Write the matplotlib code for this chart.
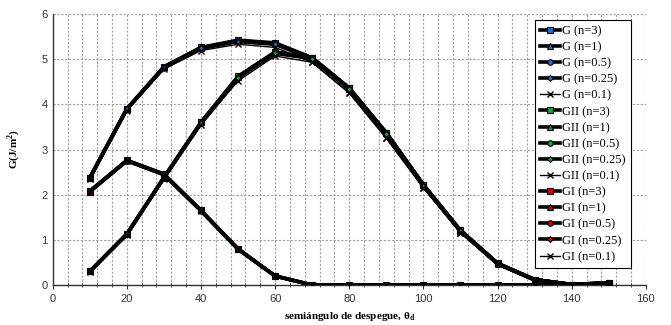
import matplotlib
matplotlib.use("Agg")
import matplotlib.pyplot as plt
import numpy as np
from matplotlib.ticker import MultipleLocator

theta = [10, 20, 30, 40, 50, 60, 70, 80, 90, 100, 110, 120, 130, 140, 150]

# Total G
G_n3    = [2.38, 3.90, 4.83, 5.26, 5.42, 5.36, 5.03, 4.36, 3.37, 2.22, 1.21, 0.48, 0.12, 0.01, 0.05]
G_n1    = [2.37, 3.90, 4.83, 5.25, 5.41, 5.35, 5.02, 4.35, 3.36, 2.21, 1.20, 0.48, 0.12, 0.01, 0.05]
G_n05   = [2.37, 3.89, 4.82, 5.25, 5.40, 5.34, 5.02, 4.34, 3.35, 2.20, 1.20, 0.47, 0.12, 0.01, 0.04]
G_n025  = [2.36, 3.89, 4.81, 5.24, 5.39, 5.33, 5.01, 4.33, 3.34, 2.20, 1.19, 0.47, 0.11, 0.01, 0.04]
G_n01   = [2.35, 3.86, 4.78, 5.19, 5.33, 5.26, 4.93, 4.25, 3.25, 2.15, 1.16, 0.46, 0.11, 0.01, 0.04]

# Mode II
GII_n3   = [0.30, 1.13, 2.38, 3.60, 4.62, 5.16, 5.03, 4.36, 3.37, 2.22, 1.21, 0.48, 0.12, 0.01, 0.05]
GII_n1   = [0.30, 1.13, 2.38, 3.60, 4.61, 5.15, 5.02, 4.35, 3.36, 2.21, 1.20, 0.48, 0.12, 0.01, 0.05]
GII_n05  = [0.30, 1.12, 2.37, 3.59, 4.60, 5.14, 5.02, 4.34, 3.35, 2.20, 1.20, 0.47, 0.12, 0.01, 0.04]
GII_n025 = [0.30, 1.12, 2.37, 3.58, 4.59, 5.13, 5.01, 4.33, 3.34, 2.20, 1.19, 0.47, 0.11, 0.01, 0.04]
GII_n01  = [0.29, 1.10, 2.34, 3.54, 4.52, 5.07, 4.93, 4.25, 3.25, 2.15, 1.16, 0.46, 0.11, 0.01, 0.04]

# Mode I
GI_n3   = [2.08, 2.76, 2.46, 1.65, 0.80, 0.20, 0.00, 0.00, 0.00, 0.00, 0.00, 0.00, 0.00, 0.00, 0.00]
GI_n1   = [2.07, 2.76, 2.45, 1.65, 0.80, 0.20, 0.00, 0.00, 0.00, 0.00, 0.00, 0.00, 0.00, 0.00, 0.00]
GI_n05  = [2.07, 2.75, 2.45, 1.65, 0.80, 0.20, 0.00, 0.00, 0.00, 0.00, 0.00, 0.00, 0.00, 0.00, 0.00]
GI_n025 = [2.06, 2.75, 2.44, 1.64, 0.79, 0.20, 0.00, 0.00, 0.00, 0.00, 0.00, 0.00, 0.00, 0.00, 0.00]
GI_n01  = [2.06, 2.74, 2.43, 1.63, 0.79, 0.19, 0.00, 0.00, 0.00, 0.00, 0.00, 0.00, 0.00, 0.00, 0.00]

n_labels = ["n=3", "n=1", "n=0.5", "n=0.25", "n=0.1"]
groups = [
    ("G", [G_n3, G_n1, G_n05, G_n025, G_n01], "#1f6fd0"),
    ("GII", [GII_n3, GII_n1, GII_n05, GII_n025, GII_n01], "#1aa33a"),
    ("GI", [GI_n3, GI_n1, GI_n05, GI_n025, GI_n01], "#e00000"),
]
markers = ["s", "^", "o", "D", "x"]

fig = plt.figure(figsize=(6.71, 3.25), dpi=100)
ax = fig.add_axes([0.0785, 0.123, 0.884, 0.834])

for name, series, col in groups:
    for i, (nl, ys) in enumerate(zip(n_labels, series)):
        if markers[i] == "x":
            ax.plot(theta, ys, color="black", lw=1.0, marker="x", ms=4,
                    mec="black", mew=1.0, label=f"{name} ({nl})", zorder=3)
        else:
            ax.plot(theta, ys, color="black", lw=2.6, marker=markers[i], ms=4 if markers[i] != "D" else 3,
                    mfc=col, mec="black", mew=0.8, label=f"{name} ({nl})", zorder=2)

ax.set_xlim(0, 160)
ax.set_ylim(0, 6)
ax.xaxis.set_major_locator(MultipleLocator(20))
ax.xaxis.set_minor_locator(MultipleLocator(4))
ax.yaxis.set_major_locator(MultipleLocator(1))
ax.grid(True, which="both", axis="x", color="#a0a0a0", ls=(0, (2, 1.5)), lw=0.8)
ax.grid(True, which="major", axis="y", color="#a0a0a0", ls=(0, (2, 1.5)), lw=0.8)
ax.set_axisbelow(True)
for s in ["top", "right"]:
    ax.spines[s].set_visible(False)
for s in ["left", "bottom"]:
    ax.spines[s].set_color("#333333")
    ax.spines[s].set_linewidth(1.0)
ax.tick_params(axis="both", which="major", labelsize=8, length=3, direction="out", colors="#333333")
ax.tick_params(axis="x", which="minor", length=3, direction="inout", colors="#333333")
ax.tick_params(axis="y", which="major", length=0)
for lab in ax.get_xticklabels() + ax.get_yticklabels():
    lab.set_fontfamily("Liberation Sans")

ax.set_xlabel(r"semiángulo de despegue, θ$_\mathregular{d}$", fontfamily="Liberation Serif",
              fontweight="bold", fontsize=8, labelpad=4)
ax.set_ylabel(r"G(J/m$^\mathregular{2}$)", fontfamily="Liberation Serif", fontweight="bold", fontsize=8, labelpad=14)

leg = ax.legend(loc="upper right", bbox_to_anchor=(0.985, 1.0), prop={"family": "Liberation Serif", "size": 9},
                handlelength=1.6, handletextpad=0.15, labelspacing=0.33, borderpad=0.4,
                frameon=True, fancybox=False, edgecolor="black", framealpha=1)
leg.get_frame().set_linewidth(0.8)

fig.savefig("out.png", dpi=100)
